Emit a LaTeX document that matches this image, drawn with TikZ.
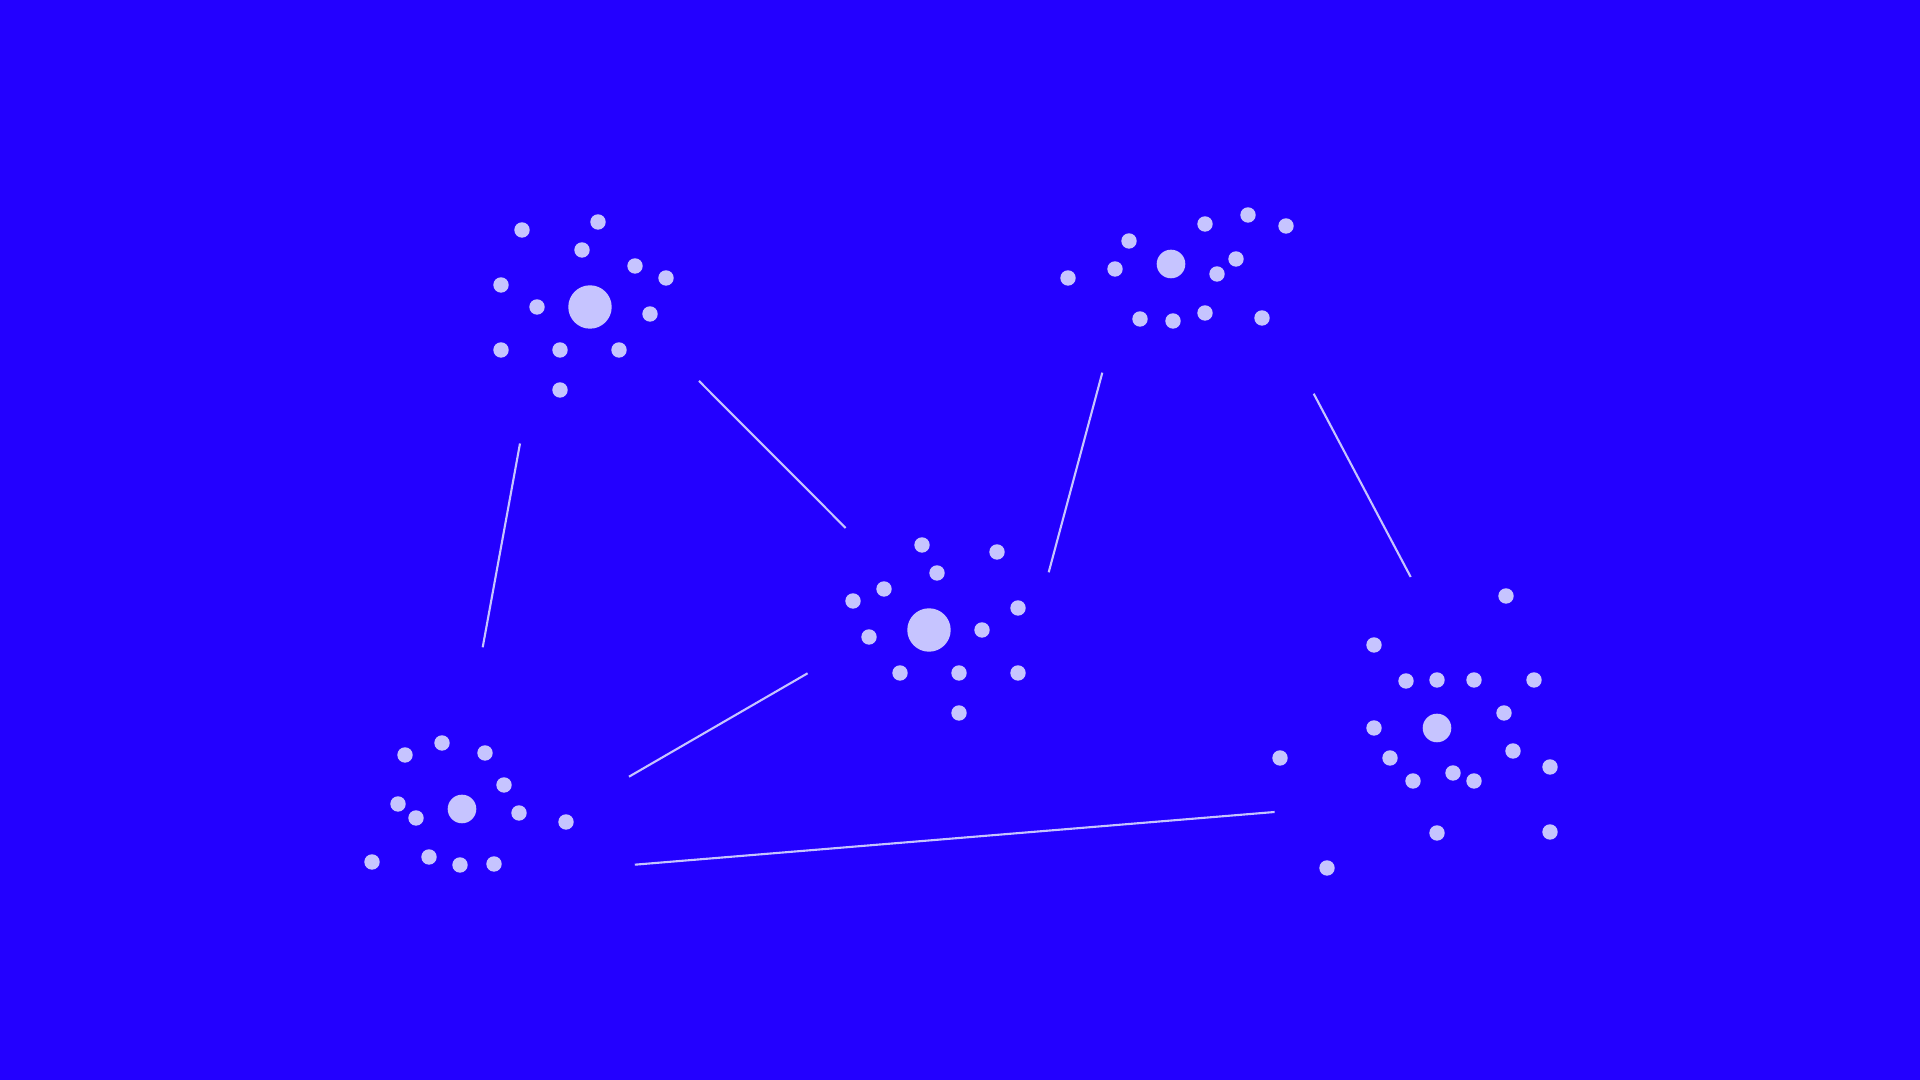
\documentclass[tikz,border=0pt]{standalone}
\usepackage{xcolor}
\definecolor{bgblue}{RGB}{35,0,255}
\definecolor{dotlilac}{RGB}{198,196,255}

\begin{document}
\begin{tikzpicture}[x=0.01cm,y=-0.01cm,
	hub/.style={circle,fill=dotlilac,inner sep=0pt,minimum size=#1},
	link/.style={color=dotlilac,line width=0.6pt}]

\def\rs{0.077cm}
\def\big{0.434cm}
\def\mid{0.286cm}

\fill[color=bgblue] (0,0) rectangle (1920,1080);

% hubs
\node[hub=\big] (hubA) at (590,307) {};
\node[hub=\mid] (hubB) at (1171,264) {};
\node[hub=\big] (hubC) at (929,630) {};
\node[hub=\mid] (hubD) at (462,809) {};
\node[hub=\mid] (hubE) at (1437,728) {};

% small dots round each hub
\begin{scope}[shift={(hubA)}]
\foreach \p in {(-68,-77),(8,-85),(-8,-57),(45,-41),(76,-29),(-89,-22),
	(-53,0),(60,7),(-89,43),(-30,43),(29,43),(-30,83)}
	\fill[color=dotlilac] \p circle[radius=\rs];
\end{scope}

\begin{scope}[shift={(hubB)}]
\foreach \p in {(-103,14),(-42,-23),(-56,5),(34,-40),(77,-49),(115,-38),
	(65,-5),(46,10),(-31,55),(2,57),(34,49),(91,54)}
	\fill[color=dotlilac] \p circle[radius=\rs];
\end{scope}

\begin{scope}[shift={(hubC)}]
\foreach \p in {(-7,-85),(68,-78),(8,-57),(-45,-41),(-76,-29),(89,-22),
	(53,0),(-60,7),(-29,43),(30,43),(89,43),(30,83)}
	\fill[color=dotlilac] \p circle[radius=\rs];
\end{scope}

\begin{scope}[shift={(hubD)}]
\foreach \p in {(-57,-54),(-20,-66),(23,-56),(42,-24),(-64,-5),(-46,9),
	(57,4),(104,13),(-90,53),(-33,48),(-2,56),(32,55)}
	\fill[color=dotlilac] \p circle[radius=\rs];
\end{scope}

\begin{scope}[shift={(hubE)}]
\foreach \p in {(69,-132),(-63,-83),(-31,-47),(0,-48),(37,-48),(97,-48),
	(67,-15),(-63,0),(-157,30),(-47,30),(76,23),(113,39),(16,45),
	(-24,53),(37,53),(0,105),(113,104),(-110,140)}
	\fill[color=dotlilac] \p circle[radius=\rs];
\end{scope}

% links
\coordinate (ad1) at (520,443.5);
\coordinate (ad2) at (482.7,647.3);
\coordinate (ac1) at (699,381);
\coordinate (ac2) at (845.7,528);
\coordinate (bc1) at (1102.3,372.7);
\coordinate (bc2) at (1048.7,572.3);
\coordinate (be1) at (1313.7,393.7);
\coordinate (be2) at (1410.7,577);
\coordinate (cd1) at (807.6,673.3);
\coordinate (cd2) at (629,776.7);
\coordinate (de1) at (634.8,864.7);
\coordinate (de2) at (1274.6,812);

\draw[link] (ad1)--(ad2);
\draw[link] (ac1)--(ac2);
\draw[link] (bc1)--(bc2);
\draw[link] (be1)--(be2);
\draw[link] (cd1)--(cd2);
\draw[link] (de1)--(de2);

\end{tikzpicture}
\end{document}
